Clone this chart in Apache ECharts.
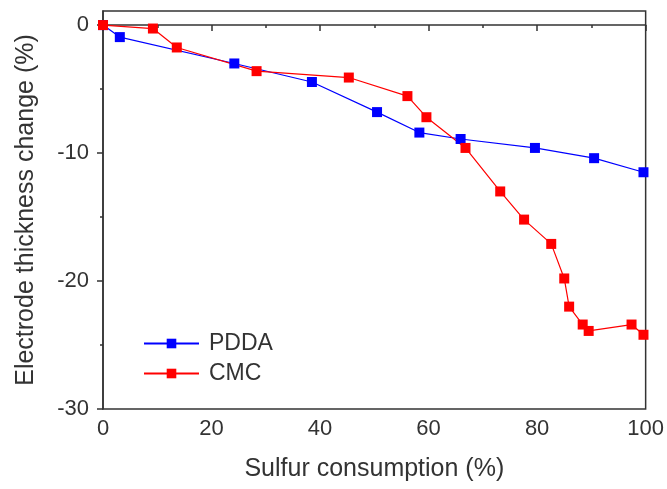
<!DOCTYPE html>
<html>
<head>
<meta charset="utf-8">
<script src="https://cdn.jsdelivr.net/npm/echarts@6/dist/echarts.min.js"></script>
<style>
html,body{margin:0;padding:0;background:#fff;}
#chart{width:667px;height:489px;}
</style>
</head>
<body>
<div id="chart"></div>
<script>
var pddaX = [0, 3.1, 24.2, 38.5, 50.5, 58.3, 65.9, 79.6, 90.5, 99.6];
var pddaY = [0, -0.94, -3.0, -4.45, -6.8, -8.4, -8.9, -9.6, -10.4, -11.5];
var cmcX = [0, 9.2, 13.6, 28.3, 45.3, 56.1, 59.6, 66.8, 73.2, 77.6, 82.6, 85.0, 85.9, 88.4, 89.5, 97.4, 99.6];
var cmcY = [0, -0.27, -1.75, -3.6, -4.1, -5.55, -7.2, -9.6, -13.0, -15.2, -17.1, -19.8, -22.0, -23.4, -23.9, -23.4, -24.2];
var yMajor = [-30, -20, -10, 0];
var yMinor = [-25, -15, -5];
var seriesNames = ['PDDA', 'CMC'];
var xName = 'Sulfur consumption (%)';
var yName = 'Electrode thickness change (%)';

function pairs(xs, ys){ return xs.map(function(x,i){return [x, ys[i]];}); }

var font = 'Liberation Sans, Arial, sans-serif';
var txt = '#333';
var chart = echarts.init(document.getElementById('chart'), null, {renderer:'canvas'});
chart.setOption({
  animation: false,
  backgroundColor: '#fff',
  grid: {left:103, right:20, top:11, bottom:80, show:true, borderColor:'#333', borderWidth:1.5, backgroundColor:'transparent'},
  legend: {
    data: seriesNames, orient:'vertical', left:143, top:332,
    itemWidth:55, itemHeight:12, itemGap:7, padding:[0,0,0,0],
    textStyle:{fontFamily:font, fontSize:23, color:txt, padding:[0,0,0,5]}
  },
  xAxis: {
    type:'value', min:0, max:100, interval:20,
    name:xName, nameLocation:'middle', nameGap:48,
    nameTextStyle:{fontFamily:font, fontSize:25, color:txt},
    axisLine:{show:true, lineStyle:{color:'#333', width:1.5}},
    axisTick:{show:true, length:6, lineStyle:{color:'#333', width:1.5}},
    minorTick:{show:true, splitNumber:2, length:3, lineStyle:{color:'#333', width:1.5}},
    axisLabel:{fontFamily:font, fontSize:22, color:txt, margin:9},
    splitLine:{show:false}
  },
  yAxis: [{
    type:'value', min:-30, max:1.1,
    name:yName, nameLocation:'middle', nameGap:64,
    nameTextStyle:{fontFamily:font, fontSize:25, color:txt},
    axisLine:{show:true, lineStyle:{color:'#333', width:1.5}},
    axisTick:{show:true, length:6, customValues:yMajor, lineStyle:{color:'#333', width:1.5}},
    axisLabel:{fontFamily:font, fontSize:22, color:txt, margin:14, customValues:yMajor},
    splitLine:{show:false}
  },{
    type:'value', min:-30, max:1.1, position:'left',
    axisLine:{show:false},
    axisTick:{show:true, length:3, customValues:yMinor, lineStyle:{color:'#333', width:1.5}},
    axisLabel:{show:false},
    splitLine:{show:false}
  }],
  series: [{
    name:seriesNames[0], type:'line', data:pairs(pddaX, pddaY),
    symbol:'rect', symbolSize:10, showAllSymbol:true,
    lineStyle:{color:'#0000ff', width:1.2}, itemStyle:{color:'#0000ff'}
  },{
    name:seriesNames[1], type:'line', data:pairs(cmcX, cmcY),
    symbol:'rect', symbolSize:10, showAllSymbol:true,
    lineStyle:{color:'#ff0000', width:1.2}, itemStyle:{color:'#ff0000'}
  }]
});
</script>
</body>
</html>
